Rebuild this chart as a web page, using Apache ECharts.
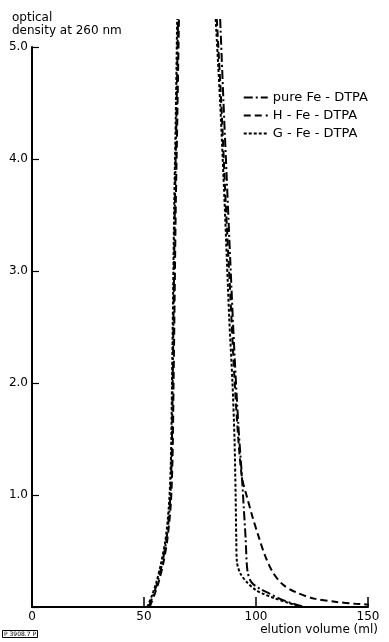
<!DOCTYPE html>
<html>
<head>
<meta charset="utf-8">
<script src="https://cdn.jsdelivr.net/npm/echarts@6/dist/echarts.min.js"></script>
<style>
    html, body { margin: 0; padding: 0; background: #fff; }
    #chart { width: 389px; height: 642px; }
</style>
</head>
<body>
<div id="chart"></div>
<script>
    // elution volume (ml) / optical density pairs, rising and falling flank of each peak
    const pureRiseVol = [52, 54, 56, 58, 60, 61.5, 62.3, 62.8, 63.3, 63.8, 64.5, 65.2]
    const pureRiseOd = [0, 0.1, 0.22, 0.38, 0.6, 0.9, 1.3, 2.0, 2.8, 3.6, 4.4, 5.25]
    const pureFallVol = [84, 85.5, 87, 88.5, 90.3, 92.2, 93.6, 94.5, 95.4, 96.2, 98, 102, 106, 110, 115, 122]
    const pureFallOd = [5.25, 4.5, 3.8, 3.1, 2.3, 1.6, 1.2, 0.9, 0.6, 0.32, 0.22, 0.16, 0.12, 0.08, 0.04, 0]

    const hRiseVol = [52.5, 54.5, 56.5, 58.5, 60.4, 61.9, 62.7, 63.2, 63.7, 64.2, 64.9, 65.6]
    const hRiseOd = [0, 0.1, 0.22, 0.38, 0.6, 0.9, 1.3, 2.0, 2.8, 3.6, 4.4, 5.25]
    const hFallVol = [82.5, 84.5, 86.5, 88.5, 90.5, 92.3, 93.8, 96, 98.5, 101, 104, 107.5, 112, 118, 126, 136, 144, 151]
    const hFallOd = [5.25, 4.5, 3.6, 2.8, 2.0, 1.45, 1.15, 0.98, 0.8, 0.64, 0.46, 0.31, 0.2, 0.13, 0.075, 0.045, 0.03, 0.02]

    const gRiseVol = [51.5, 53.5, 55.5, 57.5, 59.6, 61.1, 62, 62.5, 63, 63.5, 64.2, 64.8]
    const gRiseOd = [0, 0.1, 0.22, 0.38, 0.6, 0.9, 1.3, 2.0, 2.8, 3.6, 4.4, 5.25]
    const gFallVol = [82, 84, 86, 88, 89.5, 90.4, 90.9, 91.2, 91.5, 93, 96, 100, 103, 108, 114, 120.5]
    const gFallOd = [5.25, 4.5, 3.6, 2.6, 2.0, 1.5, 1.0, 0.6, 0.4, 0.3, 0.22, 0.15, 0.12, 0.08, 0.04, 0]

    const seriesNames = ['pure Fe - DTPA', 'H - Fe - DTPA', 'G - Fe - DTPA']
    const xTicks = [0, 50, 100, 150]
    const yTicks = [0, 1, 2, 3, 4, 5]

    function peak (riseVol, riseOd, fallVol, fallOd) {
        const pts = riseVol.map((v, i) => [v, riseOd[i]])
        pts.push([74, null]) // off scale at the top, break the line
        return pts.concat(fallVol.map((v, i) => [v, fallOd[i]]))
    }

    const font = 'DejaVu Sans'
    const chart = echarts.init(document.getElementById('chart'))

    function line (name, data, dash) {
        return {
            name: name,
            type: 'line',
            data: data,
            symbol: 'none',
            clip: false,
            connectNulls: false,
            smooth: 0.3,
            lineStyle: { color: '#000', width: 2, type: dash },
            itemStyle: { color: '#000' }
        }
    }

    chart.setOption({
        animation: false,
        backgroundColor: '#fff',
        textStyle: { fontFamily: font, color: '#000' },
        title: [{
            text: 'optical\ndensity at 260 nm',
            left: 7,
            top: 6,
            textStyle: { fontFamily: font, fontSize: 12, fontWeight: 'normal', color: '#000', lineHeight: 13 }
        }, {
            text: 'elution volume (ml)',
            right: 6,
            bottom: 1,
            textStyle: { fontFamily: font, fontSize: 12, fontWeight: 'normal', color: '#000' }
        }, {
            text: 'P 3908.7 P',
            left: 2,
            bottom: 4,
            padding: [1, 2],
            borderWidth: 1,
            borderColor: '#000',
            textStyle: { fontFamily: font, fontSize: 6, fontWeight: 'normal', color: '#000' }
        }],
        legend: {
            data: seriesNames,
            orient: 'vertical',
            right: 16,
            top: 86,
            itemWidth: 24,
            itemHeight: 10,
            itemGap: 5,
            itemStyle: { color: 'transparent', borderWidth: 0 },
            textStyle: { fontFamily: font, fontSize: 13, color: '#000' }
        },
        grid: { left: 32, right: 21, top: 47, bottom: 35 },
        xAxis: {
            type: 'value',
            min: 0,
            max: 150,
            interval: 50,
            axisLine: { lineStyle: { color: '#000', width: 2 } },
            axisTick: { inside: true, length: 10, lineStyle: { color: '#000', width: 1.5 } },
            axisLabel: {
                color: '#000', fontSize: 12, fontFamily: font, margin: 4,
                formatter: v => xTicks.includes(v) ? String(v) : ''
            },
            splitLine: { show: false }
        },
        yAxis: {
            type: 'value',
            min: 0,
            max: 5,
            interval: 1,
            axisLine: { show: true, lineStyle: { color: '#000', width: 2 } },
            axisTick: { show: true, inside: true, length: 7, lineStyle: { color: '#000', width: 1.2 } },
            axisLabel: {
                color: '#000', fontSize: 12, fontFamily: font, margin: 4,
                formatter: v => (v === 0 || !yTicks.includes(v)) ? '' : v.toFixed(1)
            },
            splitLine: { show: false }
        },
        series: [
            line(seriesNames[0], peak(pureRiseVol, pureRiseOd, pureFallVol, pureFallOd), [9, 3, 2, 3]),
            line(seriesNames[1], peak(hRiseVol, hRiseOd, hFallVol, hFallOd), [7, 4]),
            line(seriesNames[2], peak(gRiseVol, gRiseOd, gFallVol, gFallOd), [3, 2])
        ]
    })
</script>
</body>
</html>
